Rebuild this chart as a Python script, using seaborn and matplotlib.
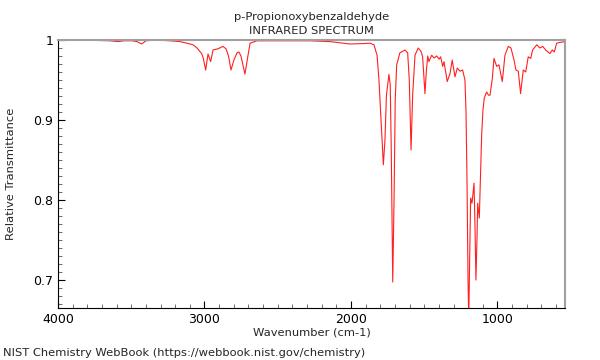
import matplotlib
matplotlib.use("Agg")
import matplotlib.pyplot as plt
import numpy as np
import pandas as pd
import seaborn as sns
from matplotlib.ticker import FuncFormatter, MultipleLocator

# Spectrum (wavenumber in cm-1, transmittance)
wavenumber = [
    4000, 3850, 3645, 3590, 3550, 3495, 3461, 3429, 3399, 3338,
    3235, 3167, 3119, 3078, 3051, 3019, 3008, 2992, 2976, 2958,
    2942, 2908, 2874, 2853, 2836, 2819, 2799, 2778, 2765, 2751,
    2724, 2706, 2689, 2642, 2553, 2416, 2280, 2143, 2007, 1918,
    1870, 1843, 1822, 1809, 1795, 1779, 1768, 1758, 1741, 1732,
    1725, 1715, 1706, 1698, 1688, 1666, 1631, 1613, 1602, 1590,
    1579, 1563, 1541, 1522, 1511, 1495, 1485, 1476, 1468, 1449,
    1433, 1415, 1399, 1388, 1374, 1365, 1343, 1324, 1309, 1290,
    1274, 1256, 1238, 1222, 1215, 1208, 1201, 1196, 1190, 1183,
    1174, 1165, 1160, 1153, 1147, 1140, 1135, 1130, 1124, 1116,
    1108, 1099, 1090, 1074, 1061, 1051, 1035, 1024, 1005, 990,
    976, 967, 949, 926, 908, 887, 874, 858, 842, 824,
    807, 790, 773, 760, 732, 710, 691, 671, 642, 626,
    612, 596, 573, 539,
]
transmittance = [
    1.000, 1.000, 0.999, 0.998, 0.999, 0.999, 0.998, 0.995, 0.999, 1.000,
    0.999, 0.998, 0.996, 0.994, 0.990, 0.983, 0.977, 0.9625, 0.9825, 0.973,
    0.9875, 0.989, 0.992, 0.989, 0.980, 0.9625, 0.975, 0.984, 0.985, 0.980,
    0.9575, 0.9775, 0.996, 0.999, 0.999, 0.999, 0.999, 0.998, 0.995, 0.9955,
    0.996, 0.994, 0.981, 0.950, 0.900, 0.844, 0.875, 0.931, 0.957, 0.944,
    0.8625, 0.6975, 0.800, 0.925, 0.969, 0.984, 0.9875, 0.984, 0.950, 0.8625,
    0.931, 0.981, 0.990, 0.986, 0.979, 0.933, 0.9625, 0.980, 0.973, 0.981,
    0.9775, 0.980, 0.976, 0.979, 0.967, 0.973, 0.948, 0.958, 0.975, 0.954,
    0.965, 0.961, 0.9625, 0.950, 0.9125, 0.825, 0.700, 0.650, 0.725, 0.8025,
    0.796, 0.8125, 0.821, 0.7625, 0.700, 0.750, 0.796, 0.7875, 0.7775, 0.831,
    0.881, 0.9125, 0.9275, 0.935, 0.931, 0.931, 0.952, 0.977, 0.967, 0.969,
    0.956, 0.948, 0.981, 0.992, 0.990, 0.975, 0.9625, 0.961, 0.933, 0.9625,
    0.960, 0.979, 0.977, 0.9875, 0.994, 0.990, 0.992, 0.9875, 0.983, 0.9875,
    0.985, 0.996, 0.997, 0.998,
]

title = "p-Propionoxybenzaldehyde\nINFRARED SPECTRUM"
footer = "NIST Chemistry WebBook (https://webbook.nist.gov/chemistry)"

df = pd.DataFrame({"wn": wavenumber, "T": transmittance})

sns.set_style("ticks")
plt.rcParams["font.family"] = ["DejaVu Sans"]
TXT = 8.25

fig = plt.figure(figsize=(6, 3.6), dpi=100)
ax = fig.add_axes([58 / 600, 52 / 360, 507 / 600, 268 / 360])

sns.lineplot(data=df, x="wn", y="T", sort=False, color="#ff2020",
             linewidth=0.8, ax=ax)

ax.set_xlim(4000, 539)
ax.set_ylim(0.665, 1.0)

ax.xaxis.set_major_locator(MultipleLocator(1000))
ax.xaxis.set_minor_locator(MultipleLocator(100))
ax.yaxis.set_major_locator(MultipleLocator(0.1))
ax.yaxis.set_minor_locator(MultipleLocator(0.01))
ax.yaxis.set_major_formatter(FuncFormatter(lambda v, _: f"{v:g}"))
ax.tick_params(which="both", direction="in", top=False, right=False,
               labelsize=9, colors="black")
ax.tick_params(which="major", length=5, width=0.8)
ax.tick_params(which="minor", length=3, width=0.6, color="#555555")

for side in ("left", "bottom"):
    ax.spines[side].set_color("black")
    ax.spines[side].set_linewidth(0.8)
for side in ("top", "right"):
    ax.spines[side].set_visible(True)
    ax.spines[side].set_color("#a0a0a0")
    ax.spines[side].set_linewidth(1.5)

ax.set_xlabel("Wavenumber (cm-1)", fontsize=TXT, labelpad=1)
ax.set_ylabel("Relative Transmittance", fontsize=TXT)
ax.yaxis.set_label_coords((16 - 58) / 507, 0.5)
ax.set_title(title, fontsize=TXT, linespacing=1.6, pad=4)

fig.text(3 / 600, 1 - 353 / 360, footer, fontsize=TXT, va="center", ha="left")

fig.savefig("out.png", dpi=100)
